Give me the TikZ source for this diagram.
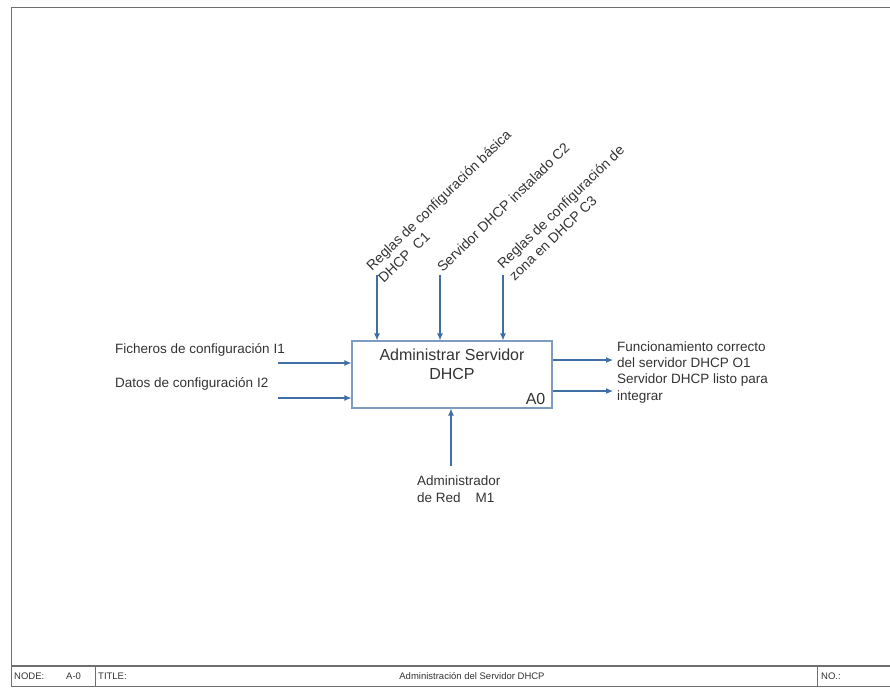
\documentclass[tikz,border=0pt]{standalone}
\usepackage{fontspec}
\setmainfont{Liberation Sans}
\usetikzlibrary{arrows.meta}
\definecolor{flow}{HTML}{3F6FA5}
\definecolor{boxline}{HTML}{7E9CC2}
\definecolor{ink}{HTML}{333333}
\definecolor{framegray}{HTML}{6E6E6E}
\begin{document}
\begin{tikzpicture}[x=1pt,y=-1pt,
  flowarrow/.style={draw=flow, line width=1.1pt, -{Latex[length=7pt,width=6pt]}},
  lbl/.style={text=ink, font=\fontsize{13.5}{16.5}\selectfont, inner sep=0pt, align=left},
  rlbl/.style={lbl, font=\fontsize{14}{17}\selectfont, rotate=44, anchor=south west},
  foot/.style={text=ink, font=\fontsize{9.5}{11}\selectfont, inner sep=0pt},
  frameline/.style={draw=framegray, line width=1.2pt}]
\useasboundingbox (0,0) rectangle (890,687);

% sheet frame and footer strip
\draw[frameline] (890,7.5) -- (11.5,7.5) -- (11.5,687);
\draw[frameline] (11.5,666) -- (890,666);
\draw[draw=framegray, line width=0.8pt] (11.5,686) -- (890,686);
\draw[draw=framegray, line width=0.8pt] (95,666) -- (95,687);
\draw[draw=framegray, line width=0.8pt] (817,666) -- (817,687);
\node[foot, anchor=west] (fnode) at (14,676) {NODE:};
\node[foot, anchor=west] (fnodeval) at (66,676) {A-0};
\node[foot, anchor=west] (ftitle) at (98,676) {TITLE:};
\node[foot] (ftitleval) at (472,676) {Administración del Servidor DHCP};
\node[foot, anchor=west] (fno) at (821,676) {NO.:};

% activity box
\node[draw=boxline, line width=1.1pt, minimum width=200pt, minimum height=67pt, inner sep=0pt] (box) at (452,374.5) {};
\node[text=ink, font=\fontsize{16}{18.5}\selectfont, align=center, inner sep=0pt] (boxtitle) at (452,364.5) {Administrar Servidor\\DHCP};
\node[text=ink, font=\fontsize{16}{18.5}\selectfont, inner sep=0pt, anchor=south east] (boxid) at ([shift={(-7,-4)}]box.south east) {A0};

% controls
\coordinate (c1) at (377,275);
\coordinate (c2) at (440,275);
\coordinate (c3) at (503,275);
\draw[flowarrow] (c1) -- (c1 |- box.north);
\draw[flowarrow] (c2) -- (c2 |- box.north);
\draw[flowarrow] (c3) -- (c3 |- box.north);
\node[rlbl] (c1lbl) at (384,284) {Reglas de configuración básica\\DHCP\ \ C1};
\node[rlbl] (c2lbl) at (443,273) {Servidor DHCP instalado C2};
\node[rlbl] (c3lbl) at (515,282) {Reglas de configuración de\\zona en DHCP C3};

% inputs
\coordinate (i1) at (278,363);
\coordinate (i2) at (278,398);
\draw[flowarrow] (i1) -- (i1 -| box.west);
\draw[flowarrow] (i2) -- (i2 -| box.west);
\node[lbl, anchor=west] (i1lbl) at (115,350) {Ficheros de configuración I1};
\node[lbl, anchor=west] (i2lbl) at (115,384) {Datos de configuración I2};

% outputs
\coordinate (o1) at (613,360);
\coordinate (o2) at (613,391);
\draw[flowarrow] (o1 -| box.east) -- (o1);
\draw[flowarrow] (o2 -| box.east) -- (o2);
\node[lbl, anchor=west] (o1lbl) at (617,354.5) {Funcionamiento correcto\\del servidor DHCP O1};
\node[lbl, anchor=west] (o2lbl) at (617,388.5) {Servidor DHCP listo para\\integrar};

% mechanism
\coordinate (m1) at (451,466);
\draw[flowarrow] (m1) -- (m1 |- box.south);
\node[lbl, anchor=north west] (m1lbl) at (417,476) {Administrador\\de Red\ \ \ \ M1};
\end{tikzpicture}
\end{document}
